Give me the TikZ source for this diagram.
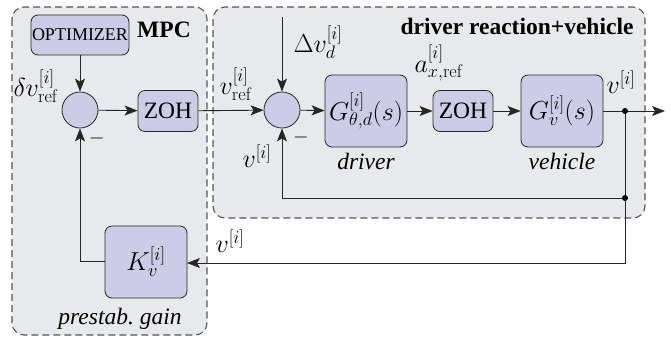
\RequirePackage{fix-cm}
\documentclass[tikz,border=0pt]{standalone}
\usepackage[no-math]{fontspec}
\setmainfont{Liberation Serif}
\usetikzlibrary{arrows.meta}
\definecolor{blk}{RGB}{204,204,230}
\definecolor{grp}{RGB}{232,233,235}
\definecolor{grpline}{RGB}{85,85,85}
\begin{document}
\begin{tikzpicture}[x=1pt,y=-1pt,
  font=\fontsize{23.5}{27}\selectfont,
  mathlbl/.style={font=\fontsize{26}{30}\selectfont},
  grpbox/.style={draw=grpline,fill=grp,dashed,dash pattern=on 7pt off 4pt,line width=1.1pt,rounded corners=12pt},
  blkbox/.style={draw=black!85,fill=blk,rounded corners=7pt,line width=0.8pt,inner sep=0pt},
  sumnode/.style={draw=black!85,fill=blk,circle,minimum size=36pt,inner sep=0pt,line width=0.8pt},
  conn/.style={line width=0.9pt,draw=black!85},
  arr/.style={conn,-{Stealth[length=13pt,width=10pt,inset=3pt]}},
  dotnode/.style={circle,fill=black,minimum size=6pt,inner sep=0pt}]
\useasboundingbox (0,0) rectangle (671,341);
% groups
\draw[grpbox] (12,7) rectangle (207,335);
\draw[grpbox] (213,7) rectangle (645,218);
% blocks
\node[blkbox,minimum width=98pt,minimum height=40pt,font=\fontsize{18}{21}\selectfont] (opt) at (80,35) {OPTIMIZER};
\node[font=\fontsize{23.5}{27}\selectfont\bfseries] (mpc) at (164,30) {MPC};
\node[font=\fontsize{23.5}{27}\selectfont\bfseries] (drvlbl) at (517,26) {driver reaction+vehicle};
\node[sumnode] (s1) at (80,110) {};
\node[blkbox,minimum width=60pt,minimum height=41pt] (zoh1) at (168,111) {ZOH};
\node[sumnode] (s2) at (282,110) {};
\node[blkbox,mathlbl,minimum width=82pt,minimum height=72pt] (gd) at (366,111) {$G_{\theta,d}^{[i]}(s)$};
\node[blkbox,minimum width=60pt,minimum height=41pt] (zoh2) at (463,111) {ZOH};
\node[blkbox,mathlbl,minimum width=82pt,minimum height=72pt] (gv) at (562,111) {$G_{v}^{[i]}(s)$};
\node[blkbox,mathlbl,minimum width=82pt,minimum height=72pt] (kv) at (146,262) {$K_{v}^{[i]}$};
\node[dotnode] (j1) at (625,111) {};
\node[dotnode] (j2) at (625,198) {};
\coordinate (out) at (665,111);
\coordinate (dtop) at (282,17);
\coordinate (fb) at (625,263);
\coordinate (kin) at (187,263);
\coordinate (kout) at (105,261);
% labels
\node[mathlbl] (l1) at (36,86) {$\delta v_{\mathrm{ref}}^{[i]}$};
\node[mathlbl] (l2) at (236,84) {$v_{\mathrm{ref}}^{[i]}$};
\node[mathlbl] (l3) at (318,42) {$\Delta v_{d}^{[i]}$};
\node[mathlbl] (l4) at (439,63) {$a_{x,\mathrm{ref}}^{[i]}$};
\node[mathlbl] (l5) at (621,82) {$v^{[i]}$};
\node[mathlbl] (l6) at (257,156) {$v^{[i]}$};
\node[mathlbl] (l7) at (230,241) {$v^{[i]}$};
\node[font=\fontsize{23.5}{27}\selectfont\itshape] (l8) at (366,161) {driver};
\node[font=\fontsize{23.5}{27}\selectfont\itshape] (l9) at (562,161) {vehicle};
\node[font=\fontsize{23.5}{27}\selectfont\itshape] (l10) at (120,319) {prestab.\ gain};
\node[font=\fontsize{20}{24}\selectfont] (m1) at (97,138) {$-$};
\node[font=\fontsize{20}{24}\selectfont] (m2) at (301,137) {$-$};
% connectors
\draw[arr] (opt) -- (s1);
\draw[arr] (s1) -- (zoh1);
\draw[arr] (zoh1) -- (s2);
\draw[arr] (dtop) -- (s2);
\draw[arr] (s2) -- (gd);
\draw[arr] (gd) -- (zoh2);
\draw[arr] (zoh2) -- (gv);
\draw[conn] (gv) -- (j1);
\draw[arr] (j1) -- (out);
\draw[conn] (j1) -- (j2);
\draw[arr] (j2) -| (s2);
\draw[arr] (j2.center) -- (fb) -- (kin);
\draw[arr] (kout) -| (s1);
\end{tikzpicture}
\end{document}
